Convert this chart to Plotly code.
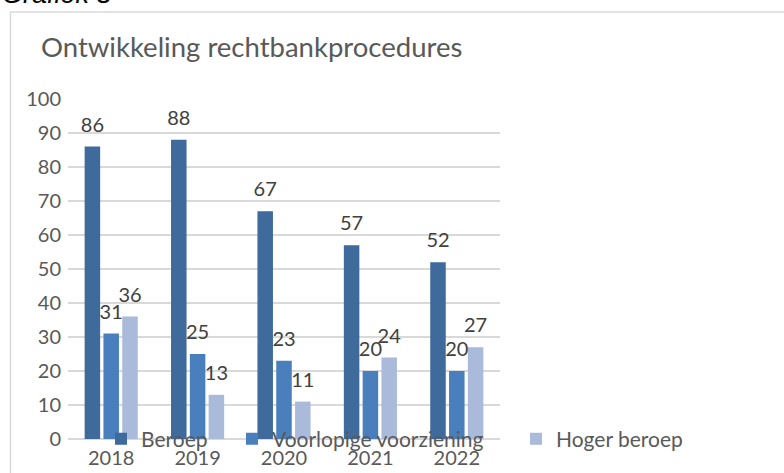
import plotly.graph_objects as go

years = ["2018", "2019", "2020", "2021", "2022"]
beroep = [86, 88, 67, 57, 52]
voorlopige = [31, 25, 23, 20, 20]
hoger = [36, 13, 11, 24, 27]
series_names = ["Beroep", "Voorlopige voorziening", "Hoger beroep"]
colors = ["#3E6A9C", "#4A7FBD", "#A9BADA"]

W, H = 784, 473
L, R, T, B = 68, 500, 99, 439

def px(x):
    return (x - L) / (R - L)

def py(y):
    return (B - y) / (B - T)

FONT = "Lato"
legend_ids = ["legend", "legend2", "legend3"]
legend_x = [101, 232, 516]
GAP = 0.347

fig = go.Figure()
for i, (name, vals, col, lg) in enumerate(zip(series_names, [beroep, voorlopige, hoger], colors, legend_ids)):
    fig.add_trace(go.Bar(
        x=years, y=vals, name=name, marker=dict(color=col, line=dict(width=0)),
        legend=lg, offsetgroup=str(i), alignmentgroup="a",
    ))
for i, vals in enumerate([beroep, voorlopige, hoger]):
    fig.add_trace(go.Scatter(
        x=years, y=vals, mode="markers+text", text=[str(v) for v in vals],
        marker=dict(size=14, opacity=0, color="white"),
        textposition="top center", showlegend=False, cliponaxis=False,
        offsetgroup=str(i), alignmentgroup="s", hoverinfo="skip",
        textfont=dict(family=FONT, size=20, color="#404040"),
    ))

legend_common = dict(orientation="h", yanchor="middle", y=py(439),
                     xanchor="left", font=dict(family=FONT, size=21, color="#595959"),
                     bgcolor="rgba(0,0,0,0)", borderwidth=0)

fig.update_layout(
    width=W, height=H,
    margin=dict(l=L, r=W - R, t=T, b=H - B, pad=0, autoexpand=False),
    paper_bgcolor="white", plot_bgcolor="white",
    barmode="group", bargap=GAP, bargroupgap=0.175,
    scattermode="group", scattergap=GAP,
    font=dict(family=FONT, color="#595959", size=20),
    showlegend=True,
    legend=dict(x=px(legend_x[0]), **legend_common),
    legend2=dict(x=px(legend_x[1]), **legend_common),
    legend3=dict(x=px(legend_x[2]), **legend_common),
    xaxis=dict(showgrid=False, showline=False, ticks="", tickfont=dict(size=20, color="#595959"),
               zeroline=False, automargin=False, ticklabelstandoff=5),
    yaxis=dict(range=[0, 100], dtick=10, showgrid=True, gridcolor="#D9D9D9", gridwidth=1.5,
               zeroline=True, zerolinecolor="#D9D9D9", zerolinewidth=1.5,
               ticks="", ticklabelstandoff=6, tickfont=dict(size=20, color="#595959"),
               showline=False, automargin=False),
)

fig.add_shape(type="rect", xref="paper", yref="paper",
              x0=px(10.5), x1=px(800), y0=py(12), y1=py(490),
              line=dict(color="#D9D9D9", width=1.5), fillcolor="rgba(0,0,0,0)", layer="below")

fig.add_annotation(text="Ontwikkeling rechtbankprocedures", xref="paper", yref="paper",
                   x=px(39), y=py(46), xanchor="left", yanchor="middle", showarrow=False,
                   font=dict(family=FONT, size=27.5, color="#595959"))
fig.add_annotation(text="<i>Grafiek 8</i>", xref="paper", yref="paper",
                   x=px(0), y=py(11), xanchor="left", yanchor="bottom", showarrow=False,
                   font=dict(family="Liberation Sans", size=27, color="#000000"))

fig.write_html("out.html")
